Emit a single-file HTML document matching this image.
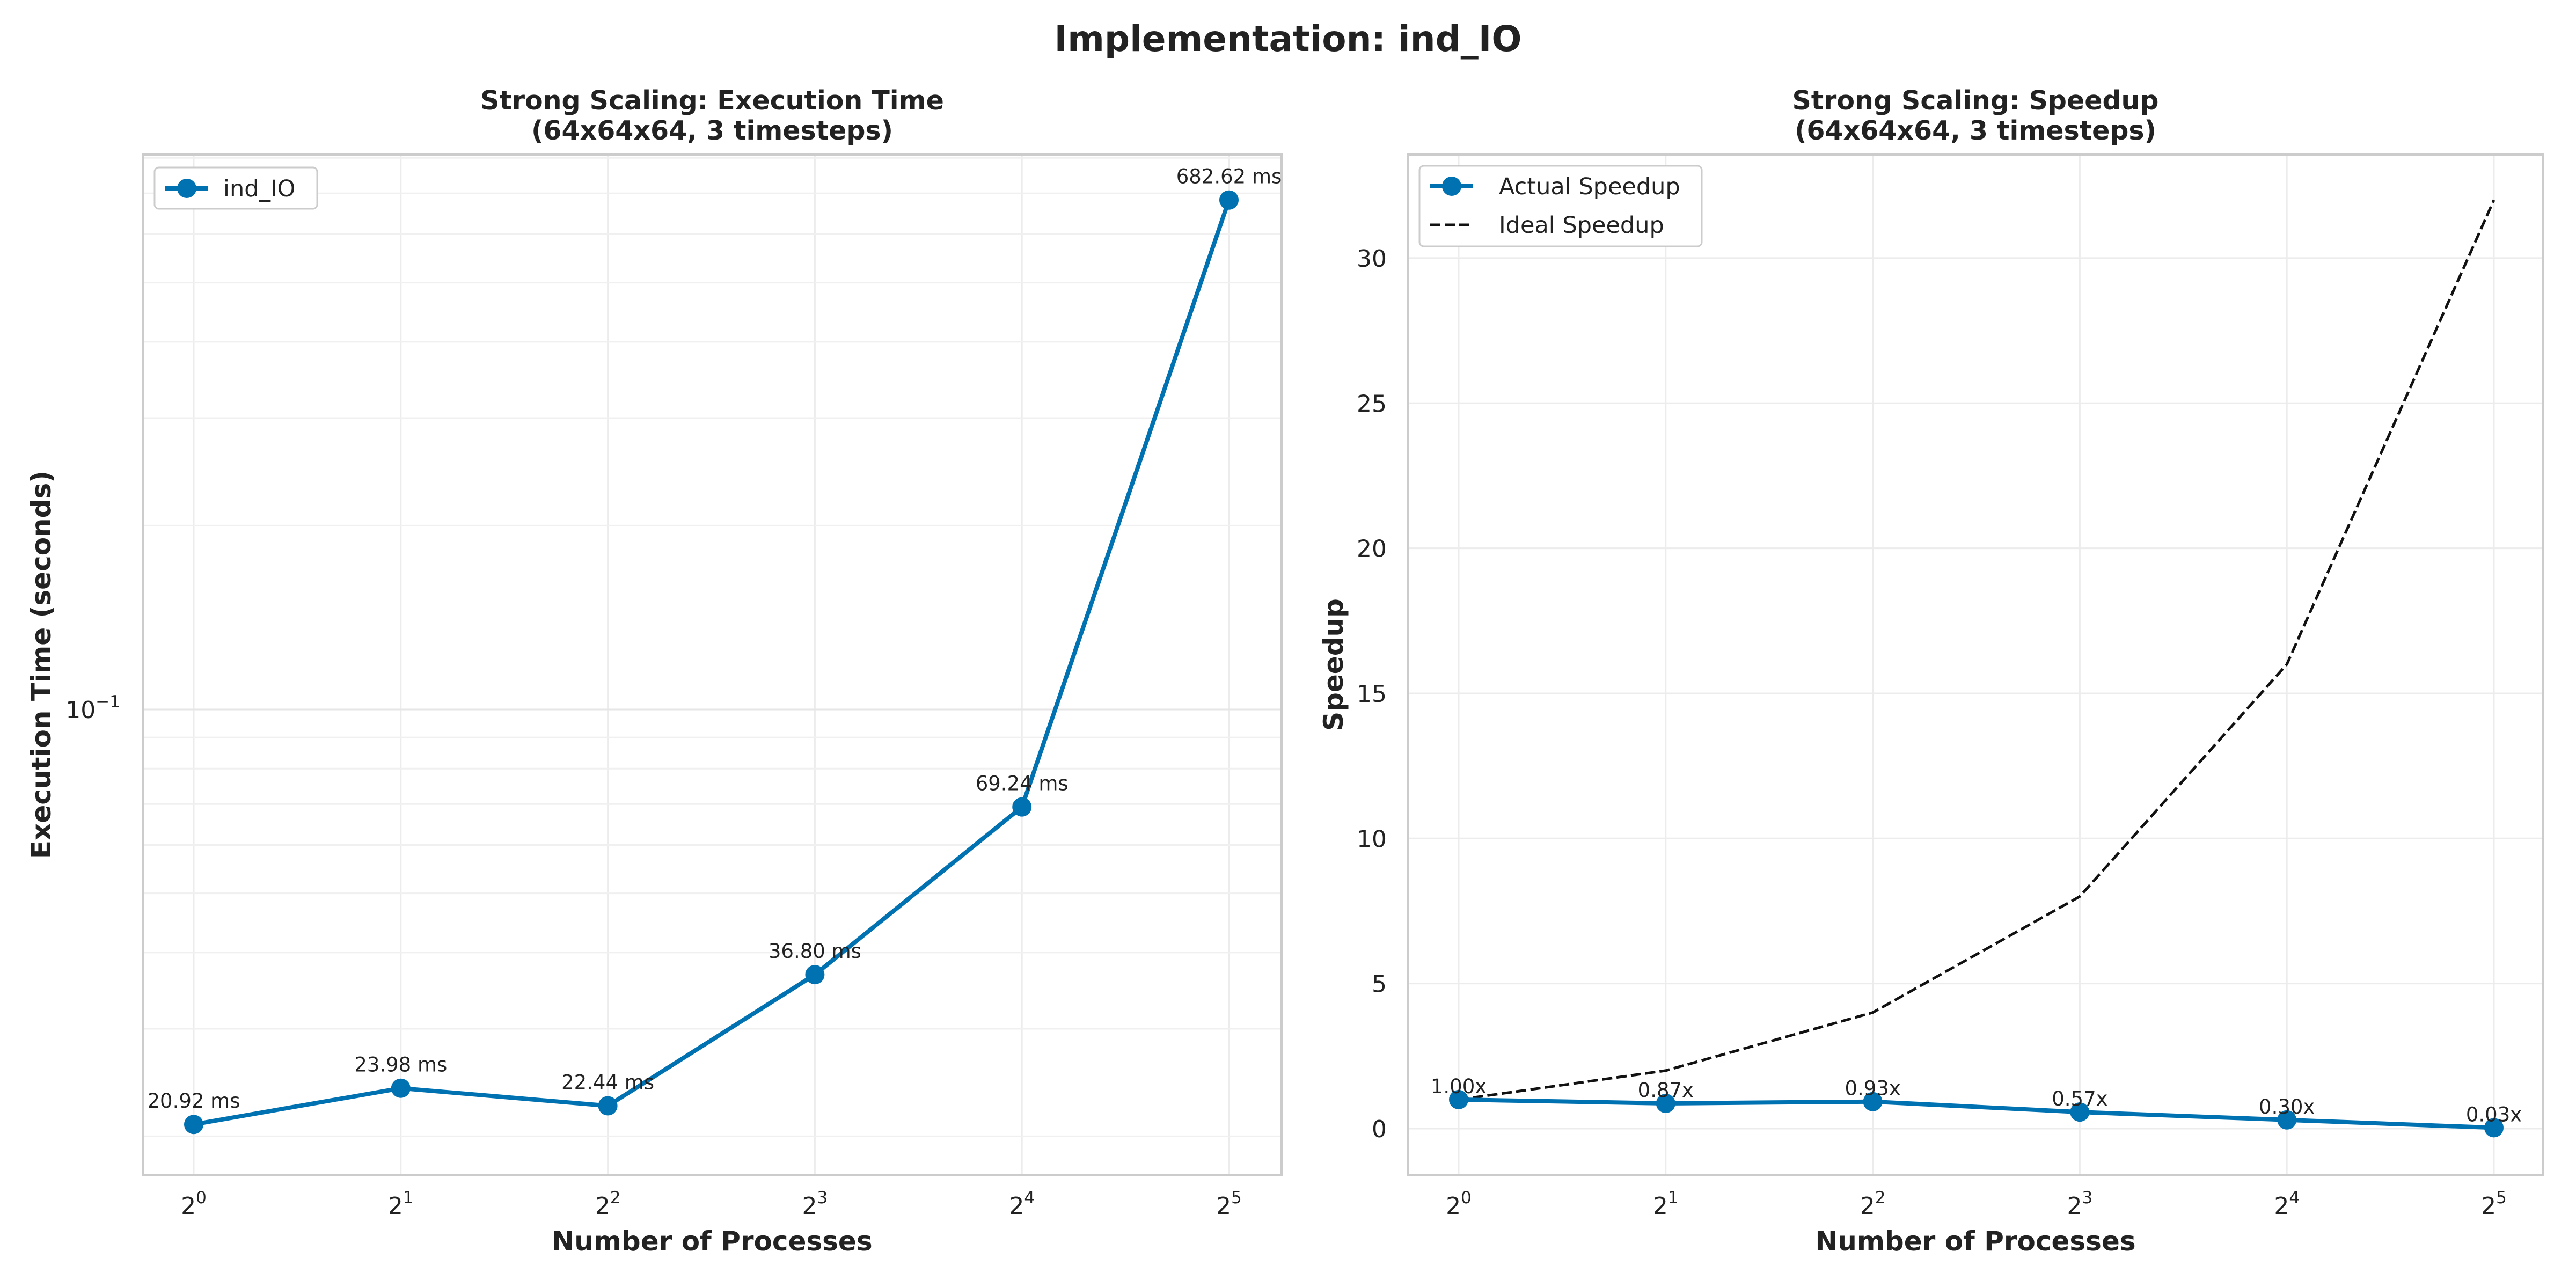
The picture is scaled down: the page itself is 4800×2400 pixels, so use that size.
<!DOCTYPE html>
<html><head><meta charset="utf-8"><style>
html,body{margin:0;padding:0;background:#fff}
svg{display:block;font-family:"DejaVu Sans","Liberation Sans",sans-serif}
</style></head><body>
<svg id="fig" width="4800" height="2400" viewBox="0 0 4800 2400" xmlns="http://www.w3.org/2000/svg">
<rect width="4800" height="2400" fill="#fff"/>
<text x="2400" y="95" text-anchor="middle" font-size="66" font-weight="bold" fill="#222">Implementation: ind_IO</text>
<g id="left"></g>
<g id="right"></g>
</svg>
<script>
const procs = [1, 2, 4, 8, 16, 32];
const xTickExps = ["0","1","2","3","4","5"];
const timesMs = [20.92, 23.98, 22.44, 36.80, 69.24, 682.62];
const timeLabels = ["20.92 ms","23.98 ms","22.44 ms","36.80 ms","69.24 ms","682.62 ms"];
const speedup = [1.00, 0.87, 0.93, 0.57, 0.30, 0.03];
const speedupLabels = ["1.00x","0.87x","0.93x","0.57x","0.30x","0.03x"];
const idealSpeedup = [1, 2, 4, 8, 16, 32];
const speedTicks = [0, 5, 10, 15, 20, 25, 30];

const NS = "http://www.w3.org/2000/svg";
const BLUE = "#0072b2";
function mk(parent, tag, attrs, text){
  const e = document.createElementNS(NS, tag);
  for (const k in attrs) e.setAttribute(k, attrs[k]);
  if (text !== undefined) e.textContent = text;
  parent.appendChild(e);
  return e;
}
const TOP = 288, BOT = 2189;

// ---------- Left: log time ----------
(function(){
  const g = document.getElementById('left');
  const L = 266, R = 2388;
  const x0 = 361, x5 = 2290;
  const xs = p => x0 + (Math.log2(p)) * (x5 - x0) / 5;
  const yRef = 1322, pxDec = 1138;
  const ys = v => yRef - (Math.log10(v) + 1) * pxDec;
  for (const p of procs) {
    const l = mk(g, 'line', {x1: xs(p), x2: xs(p), y1: TOP, y2: BOT, stroke: '#ececec', 'stroke-width': 3});
    
    
  }
  const minors = [0.02,0.03,0.04,0.05,0.06,0.07,0.08,0.09,0.1,0.2,0.3,0.4,0.5,0.6,0.7,0.8];
  for (const v of minors) {
    const y = ys(v);
    if (y < TOP || y > BOT) continue;
    const l = mk(g, 'line', {x1: L, x2: R, y1: y, y2: y, stroke: v === 0.1 ? '#e6e6e6' : '#f0f0f0', 'stroke-width': 3});
    
    
  }
  const fr = mk(g, 'rect', {x: L, y: TOP, width: R - L, height: BOT - TOP, fill: 'none', stroke: '#cccccc', 'stroke-width': 4});
  
  
  const t = mk(g, 'text', {x: (L + R) / 2, y: 204, 'text-anchor': 'middle', 'font-size': 49, 'font-weight': 'bold', fill: '#222'});
  
  
  mk(t, 'tspan', {x: (L + R) / 2, dy: 0}, 'Strong Scaling: Execution Time');
  mk(t, 'tspan', {x: (L + R) / 2, dy: 56}, '(64x64x64, 3 timesteps)');
  procs.forEach((p, i) => {
    const tx = mk(g, 'text', {x: xs(p), y: 2262, 'text-anchor': 'middle', 'font-size': 44, fill: '#222'});
    
    
    mk(tx, 'tspan', {}, '2');
    mk(tx, 'tspan', {dy: -20, 'font-size': 31}, xTickExps[i]);
  });
  const yt = mk(g, 'text', {x: 224, y: 1338, 'text-anchor': 'end', 'font-size': 44, fill: '#222'});
  
  
  mk(yt, 'tspan', {}, '10');
  mk(yt, 'tspan', {dy: -20, 'font-size': 31}, '\u22121');
  const xl = mk(g, 'text', {x: (L + R) / 2, y: 2330, 'text-anchor': 'middle', 'font-size': 50, 'font-weight': 'bold', fill: '#222'}, 'Number of Processes');
  
  
  const yl = mk(g, 'text', {x: 0, y: 0, transform: 'translate(94,' + (TOP + BOT) / 2 + ') rotate(-90)', 'text-anchor': 'middle', 'font-size': 50, 'font-weight': 'bold', fill: '#222'}, 'Execution Time (seconds)');
  
  
  const pts = procs.map((p, i) => xs(p) + ',' + ys(timesMs[i] / 1000)).join(' ');
  const pl = mk(g, 'polyline', {points: pts, fill: 'none', stroke: BLUE, 'stroke-width': 8, 'stroke-linejoin': 'round'});
  
  
  procs.forEach((p, i) => {
    const c = mk(g, 'circle', {cx: xs(p), cy: ys(timesMs[i] / 1000), r: 18, fill: BLUE});
    
    
    const a = mk(g, 'text', {x: xs(p), y: ys(timesMs[i] / 1000) - 31, 'text-anchor': 'middle', 'font-size': 37, fill: '#222'}, timeLabels[i]);
    
    
  });
  const lg = mk(g, 'g', {});
  
  
  mk(lg, 'rect', {x: 288, y: 312, width: 303, height: 77, rx: 8, fill: '#fff', stroke: '#cccccc', 'stroke-width': 3});
  mk(lg, 'line', {x1: 308, x2: 388, y1: 351, y2: 351, stroke: BLUE, 'stroke-width': 8});
  mk(lg, 'circle', {cx: 348, cy: 351, r: 18, fill: BLUE});
  const le = mk(lg, 'text', {x: 416, y: 366, 'font-size': 43, fill: '#222'}, 'ind_IO');
  
  
})();

// ---------- Right: speedup ----------
(function(){
  const g = document.getElementById('right');
  const L = 2623, R = 4739;
  const x0 = 2718, x5 = 4647;
  const xs = p => x0 + (Math.log2(p)) * (x5 - x0) / 5;
  const y0 = 2103, pxU = 54.07;
  const ys = v => y0 - v * pxU;
  for (const p of procs) {
    const l = mk(g, 'line', {x1: xs(p), x2: xs(p), y1: TOP, y2: BOT, stroke: '#ececec', 'stroke-width': 3});
    
    
  }
  speedTicks.forEach(v => {
    const l = mk(g, 'line', {x1: L, x2: R, y1: ys(v), y2: ys(v), stroke: '#ececec', 'stroke-width': 3});
    
    
    const t = mk(g, 'text', {x: 2584, y: ys(v) + 16, 'text-anchor': 'end', 'font-size': 44, fill: '#222'}, String(v));
    
    
  });
  const fr = mk(g, 'rect', {x: L, y: TOP, width: R - L, height: BOT - TOP, fill: 'none', stroke: '#cccccc', 'stroke-width': 4});
  
  
  const t = mk(g, 'text', {x: (L + R) / 2, y: 204, 'text-anchor': 'middle', 'font-size': 49, 'font-weight': 'bold', fill: '#222'});
  
  
  mk(t, 'tspan', {x: (L + R) / 2, dy: 0}, 'Strong Scaling: Speedup');
  mk(t, 'tspan', {x: (L + R) / 2, dy: 56}, '(64x64x64, 3 timesteps)');
  procs.forEach((p, i) => {
    const tx = mk(g, 'text', {x: xs(p), y: 2262, 'text-anchor': 'middle', 'font-size': 44, fill: '#222'});
    
    
    mk(tx, 'tspan', {}, '2');
    mk(tx, 'tspan', {dy: -20, 'font-size': 31}, xTickExps[i]);
  });
  const xl = mk(g, 'text', {x: (L + R) / 2, y: 2330, 'text-anchor': 'middle', 'font-size': 50, 'font-weight': 'bold', fill: '#222'}, 'Number of Processes');
  
  
  const yl = mk(g, 'text', {x: 0, y: 0, transform: 'translate(2502,' + (TOP + BOT) / 2 + ') rotate(-90)', 'text-anchor': 'middle', 'font-size': 50, 'font-weight': 'bold', fill: '#222'}, 'Speedup');
  
  
  const ip = procs.map((p, i) => xs(p) + ',' + ys(idealSpeedup[i])).join(' ');
  const il = mk(g, 'polyline', {points: ip, fill: 'none', stroke: '#111', 'stroke-width': 5, 'stroke-dasharray': '19,8'});
  
  
  const ap = procs.map((p, i) => xs(p) + ',' + ys(speedup[i])).join(' ');
  const al = mk(g, 'polyline', {points: ap, fill: 'none', stroke: BLUE, 'stroke-width': 8, 'stroke-linejoin': 'round'});
  
  
  procs.forEach((p, i) => {
    const c = mk(g, 'circle', {cx: xs(p), cy: ys(speedup[i]), r: 18, fill: BLUE});
    
    
    const a = mk(g, 'text', {x: xs(p), y: ys(speedup[i]) - 12, 'text-anchor': 'middle', 'font-size': 37, fill: '#222'}, speedupLabels[i]);
    
    
  });
  const lg = mk(g, 'g', {});
  
  
  mk(lg, 'rect', {x: 2645, y: 309, width: 526, height: 150, rx: 8, fill: '#fff', stroke: '#cccccc', 'stroke-width': 3});
  mk(lg, 'line', {x1: 2665, x2: 2745, y1: 347, y2: 347, stroke: BLUE, 'stroke-width': 8});
  mk(lg, 'circle', {cx: 2705, cy: 347, r: 18, fill: BLUE});
  const e1 = mk(lg, 'text', {x: 2793, y: 362, 'font-size': 43, fill: '#222'}, 'Actual Speedup');
  
  
  mk(lg, 'line', {x1: 2665, x2: 2745, y1: 419, y2: 419, stroke: '#111', 'stroke-width': 5, 'stroke-dasharray': '19,8'});
  const e2 = mk(lg, 'text', {x: 2793, y: 434, 'font-size': 43, fill: '#222'}, 'Ideal Speedup');
  
  
})();
</script>
</body></html>
